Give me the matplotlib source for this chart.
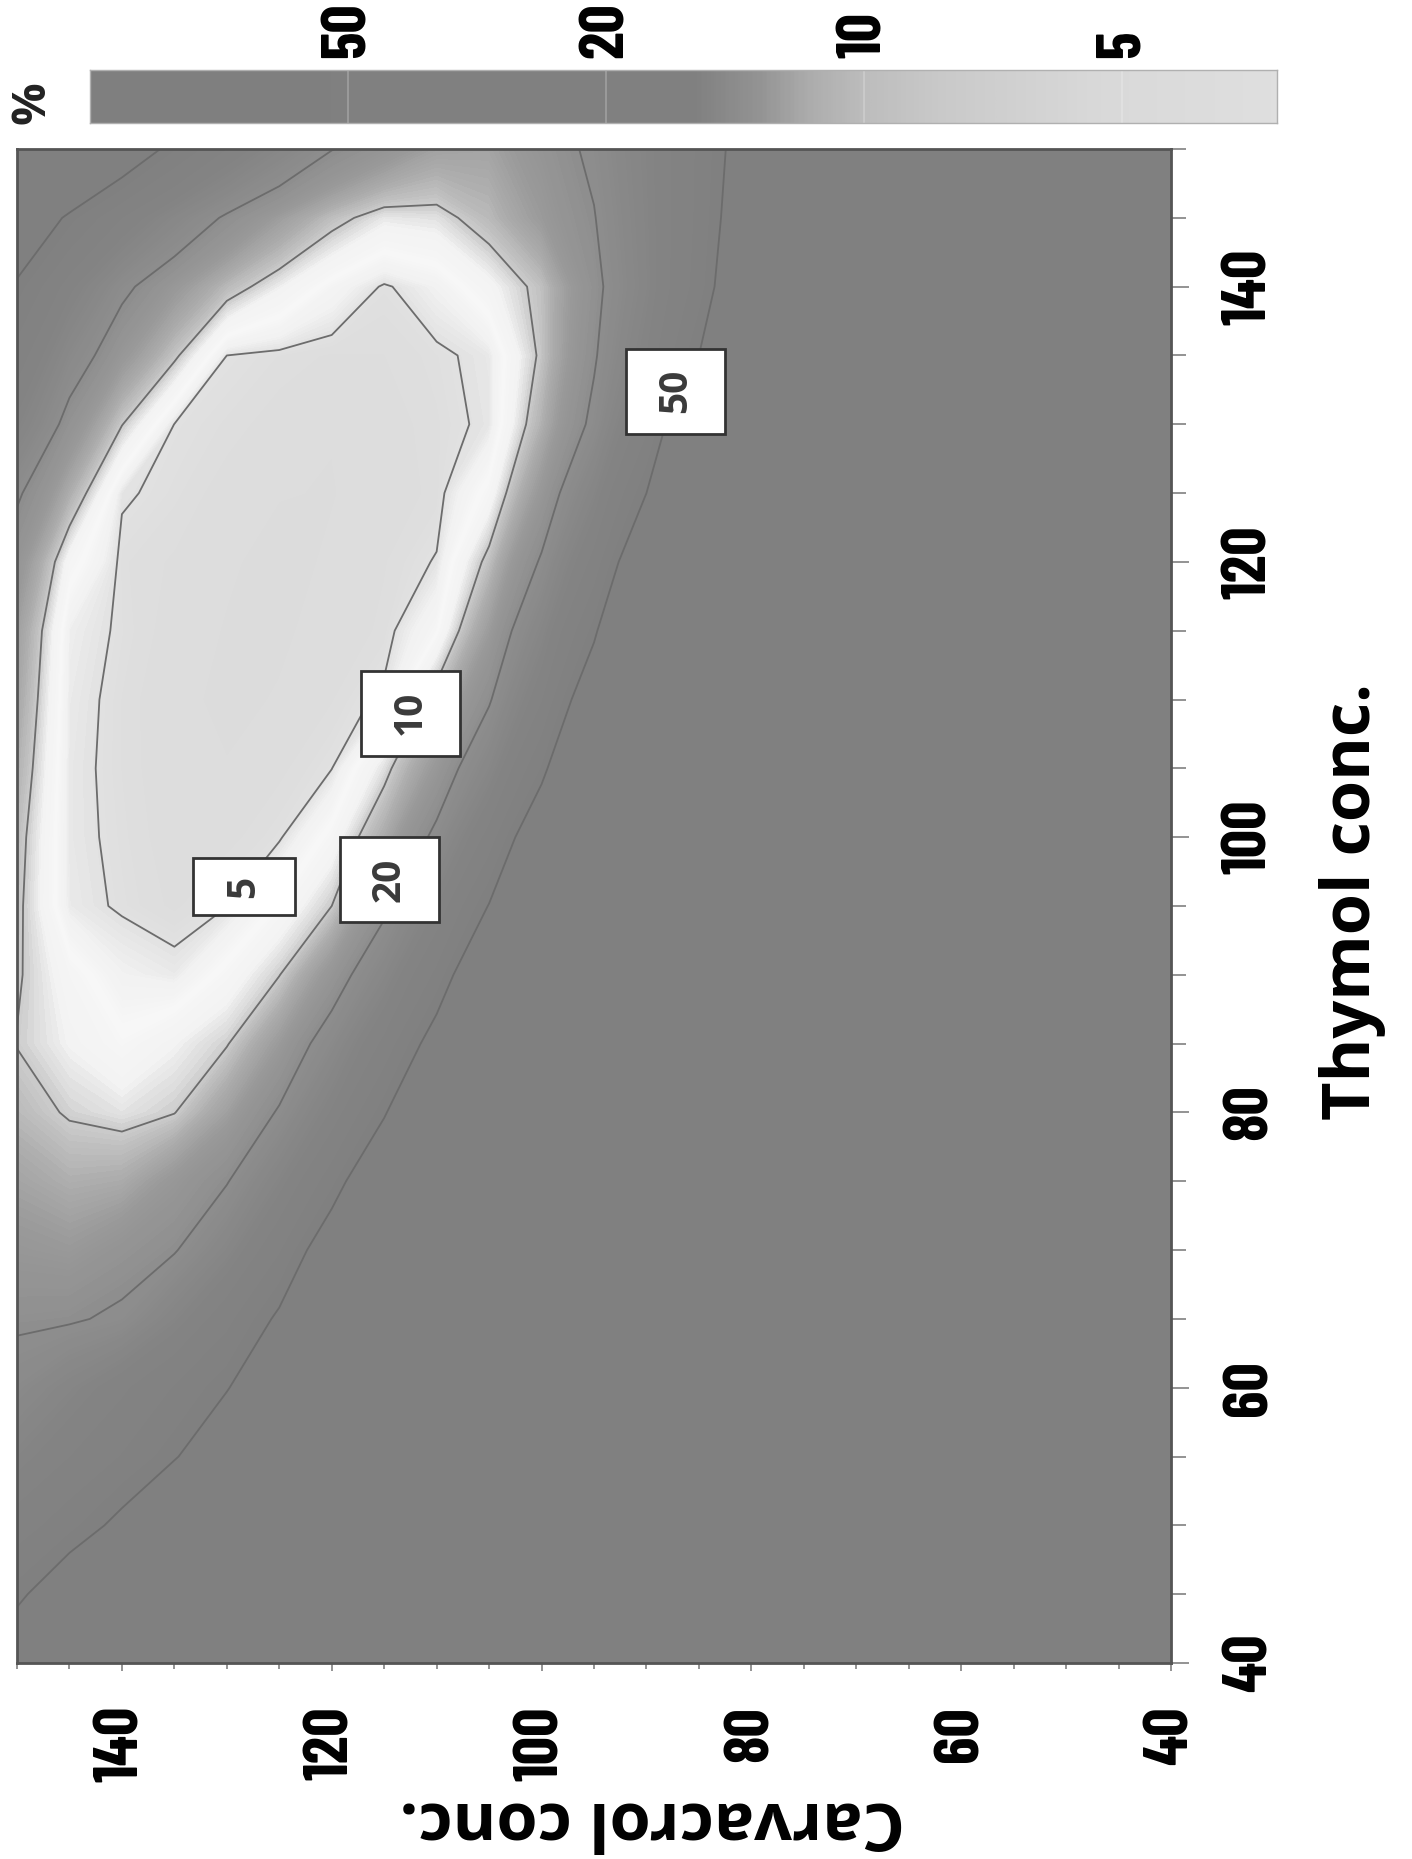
import numpy as np
import matplotlib
matplotlib.use("Agg")
import matplotlib.pyplot as plt
from matplotlib import colors, font_manager as fm
from matplotlib import patheffects as pe
from matplotlib.patches import Rectangle
from matplotlib.ticker import MultipleLocator

# ---------------- data ----------------
thymol_conc = [40, 45, 50, 55, 60, 65, 70, 75, 80, 85, 90, 95, 100,
               105, 110, 115, 120, 125, 130, 135, 140, 145, 150]
carvacrol_conc = [40, 45, 50, 55, 60, 65, 70, 75, 80, 85, 90, 95, 100,
                  105, 110, 115, 120, 125, 130, 135, 140, 145, 150]
# rows: thymol (ascending), columns: carvacrol (ascending); values in %
inhibition_pct = [
    [200,200,200,200,200,200,200,200,200,200,200,200,200,200,200,200,200,200,200,137,104,76,60],
    [200,200,200,200,200,200,200,200,200,200,200,200,200,200,200,200,200,200,157,113,82,59,47.7],
    [200,200,200,200,200,200,200,200,200,200,200,200,200,200,200,200,200,142,103,74,53,44,37.6],
    [200,200,200,200,200,200,200,200,200,200,200,200,200,200,200,175,126,92,66,48.6,41,35,29.3],
    [200,200,200,200,200,200,200,200,200,200,200,200,200,200,180,130,94,68,49,41,34,28.1,23.4],
    [200,200,200,200,200,200,200,200,200,200,200,200,200,174,128,95,71,52,38.7,28.6,21.1,19.3,18.9],
    [200,200,200,200,200,200,200,200,200,200,200,200,200,190,128,87,59,39.9,27.1,19.5,17.2,15.2,15.9],
    [200,200,200,200,200,200,200,200,200,200,200,200,200,150,99,66,44,29.1,19.6,15.7,12.6,12.2,13.5],
    [200,200,200,200,200,200,200,200,200,200,200,200,182,117,76,48.6,31.6,20.6,14.0,9.9,9.0,9.7,11.3],
    [200,200,200,200,200,200,200,200,200,200,200,200,137,88,56,36.3,23.5,14.9,9.8,8.3,7.1,8.3,9.9],
    [200,200,200,200,200,200,200,200,200,200,200,170,107,67,42,26.3,16.2,9.9,7.3,5.4,5.8,7.5,10.3],
    [200,200,200,200,200,200,200,200,200,200,200,137,83,50.5,30.9,18.4,10,7.0,4.97,4.42,4.86,5.4,10.6],
    [200,200,200,200,200,200,200,200,200,200,187,109,63,37,21.5,12.6,7.3,4.86,4.35,4.26,4.77,5.3,11.0],
    [200,200,200,200,200,200,200,200,200,200,141,80.5,46.1,26.3,15.5,9.1,4.97,4.39,3.9,4.17,4.7,5.3,12.0],
    [200,200,200,200,200,200,200,200,200,196,110,61.6,34.5,19.3,11.2,5.2,4.47,3.92,3.63,4.12,4.7,5.4,13.0],
    [200,200,200,200,200,200,200,200,200,150,85,47.6,27.1,14.6,6.6,4.6,4.17,3.71,3.79,4.3,4.83,5.6,14.0],
    [200,200,200,200,200,200,200,200,200,115,65,36.7,20.7,10.8,5.07,4.47,3.98,3.54,3.98,4.45,4.75,7.5,16.5],
    [200,200,200,200,200,200,200,200,157,89,50,28.3,15.6,7.3,4.6,4.27,3.81,3.9,4.3,4.77,5.11,12.3,20.9],
    [200,200,200,200,200,200,200,200,125,69.6,38.7,21.5,12.0,5.2,4.67,4.3,3.9,4.3,4.67,4.97,10.1,17.5,30],
    [200,200,200,200,200,200,200,129,80.5,50,31.1,19.3,10.5,5.3,4.8,4.5,4.45,4.7,5.0,10.5,15.7,24,38],
    [200,200,200,200,200,200,154,101,66,43.2,28.3,18.2,10.8,7.9,5.8,4.85,6.3,8.5,11.3,15.5,21.5,32.3,48],
    [200,200,200,200,200,190,131,90,61,42,28.9,19.7,14.9,11.3,9.1,8.8,10.9,14.4,19.0,25.8,35,47.6,65],
    [200,200,200,200,200,159,113,81,58,41.6,29.5,21.3,16.7,13.5,13.8,16.6,20.2,26.6,35,46.1,60.6,79.8,105],
]
contour_levels = [5, 10, 20, 50]
colorbar_ticks = [50, 20, 10, 5]
thymol_ticks = [40, 60, 80, 100, 120, 140]
carvacrol_ticks = [40, 60, 80, 100, 120, 140]
x_label = "Carvacrol conc."
y_label = "Thymol conc."
unit_label = "%"

# ---------------- layout / style ----------------
W, H = 1412, 1859
fig = plt.figure(figsize=(W / 100, H / 100), dpi=100)
fig.patch.set_facecolor("white")

def fx(px):
    return px / W

def fy(py):
    return 1 - py / H

_wmap = {"bold": 700, "semibold": 600, "demibold": 600, "demi": 600, "heavy": 800,
         "extra bold": 800, "black": 900, "ultrabold": 800}

def has_bold(name):
    for f in fm.fontManager.ttflist:
        if f.name == name:
            w = f.weight
            if isinstance(w, str):
                w = _wmap.get(w.lower(), 400)
            if w >= 600:
                return True
    return False

tick_family, tick_fx = None, []
for cand in ("Barlow Condensed", "Asap Condensed", "Archivo Narrow"):
    if has_bold(cand):
        tick_family = cand
        break
if tick_family is None:
    tick_family = "Archivo Narrow"
    tick_fx = [pe.withStroke(linewidth=1.6, foreground="black")]
tick_fp = fm.FontProperties(family=[tick_family, "DejaVu Sans"], weight="bold", size=45)
title_family = ["Open Sans", "DejaVu Sans"]

# value -> level index (5,10,20,50 equally spaced)
def fwd(z):
    z = np.maximum(np.asarray(z, dtype=float), 1e-9)
    return np.where(z < 20, 1 + np.log2(z / 5), 3 + np.log(z / 20) / np.log(2.5))

def inv(u):
    u = np.asarray(u, dtype=float)
    return np.where(u < 3, 5 * 2 ** (u - 1), 20 * 2.5 ** (u - 3))


def make_cmap(name, stops, lo, hi):
    pts = []
    for u, g in stops:
        p = min(max((u - lo) / (hi - lo), 0.0), 1.0)
        pts.append([p, (g, g, g)])
    pts[0][0] = 0.0
    pts[-1][0] = 1.0
    return colors.LinearSegmentedColormap.from_list(name, [tuple(p) for p in pts])


vmin, vmax = 3.3, 200.0
umin, umax = float(fwd(vmin)), float(fwd(vmax))
plot_stops = [(umin, 0.86), (0.9, 0.87), (1.0, 0.885), (1.2, 0.945), (1.45, 0.968),
              (1.75, 0.95), (2.0, 0.80), (2.3, 0.68), (2.6, 0.60), (3.0, 0.555),
              (3.5, 0.515), (4.0, 0.502), (umax, 0.502)]
cmap_plot = make_cmap("plot", plot_stops, umin, umax)
norm = colors.FuncNorm((fwd, inv), vmin=vmin, vmax=vmax)

ax = fig.add_axes([fx(17), fy(1663), fx(1171) - fx(17), fy(149) - fy(1663)])
ax.set_facecolor((0.5, 0.5, 0.5))
C, T = np.meshgrid(carvacrol_conc, thymol_conc)
Z = np.array(inhibition_pct, dtype=float)
fill_levels = inv(np.linspace(umin, umax, 160))
fill_levels[0] = vmin * 0.99
fill_levels[-1] = vmax * 1.01
ax.contourf(C, T, Z, levels=fill_levels, cmap=cmap_plot, norm=norm, antialiased=False)
ax.contour(C, T, Z, levels=contour_levels, colors="#6c6c6c", linewidths=1.3)

ax.set_xlim(150, 40)
ax.set_ylim(40, 150)

ax.yaxis.tick_right()
ax.set_yticks(thymol_ticks)
ax.set_yticklabels([str(v) for v in thymol_ticks], fontproperties=tick_fp,
                   rotation=90, va="center", ha="left")
ax.set_xticks(carvacrol_ticks)
ax.set_xticklabels([str(v) for v in carvacrol_ticks], fontproperties=tick_fp,
                   rotation=90, va="top", ha="center")
ax.xaxis.set_minor_locator(MultipleLocator(5))
ax.yaxis.set_minor_locator(MultipleLocator(5))
ax.tick_params(axis="y", which="major", length=13, width=1.2, color="#808080", pad=24)
ax.tick_params(axis="y", which="minor", length=11, width=1.2, color="#808080")
ax.tick_params(axis="x", which="major", length=6, width=1.2, color="#808080", pad=25)
ax.tick_params(axis="x", which="minor", length=4, width=1.2, color="#808080")
for lbl in ax.get_xticklabels() + ax.get_yticklabels():
    lbl.set_path_effects(tick_fx)
for s in ax.spines.values():
    s.set_color("#555555")
    s.set_linewidth(2)

# contour labels (white boxes); sizes in pixels -> data units
px_c = 1154 / 110.0
px_t = 1514 / 110.0
label_layout = {50: (87.2, 132.4), 10: (112.5, 109.0), 20: (114.5, 96.9), 5: (128.4, 96.4)}
for lev in contour_levels:
    cx, ty = label_layout[lev]
    bw, bh = (99, 85) if lev >= 10 else (102, 57)
    ax.add_patch(Rectangle((cx - bw / px_c / 2, ty - bh / px_t / 2), bw / px_c, bh / px_t,
                           fc="white", ec="#333333", lw=2, zorder=5))
    ax.text(cx, ty, str(lev), rotation=90, ha="center", va="center",
            fontsize=28, family=title_family, weight="bold", color="#3a3a3a", zorder=6)

# colorbar strip
cb_stops = [(0.4, 0.875), (1.1, 0.85), (1.7, 0.79), (2.0, 0.74), (2.2, 0.68),
            (2.4, 0.58), (2.65, 0.505), (5.0, 0.50)]
cmap_cb = make_cmap("cb", cb_stops, 0.4, 5.0)
cax = fig.add_axes([fx(90), fy(123), fx(1277) - fx(90), fy(70) - fy(123)])
cax.imshow(np.linspace(0.4, 5.0, 600)[None, :], extent=(0.4, 5.0, 0, 1), aspect="auto",
           cmap=cmap_cb, vmin=0.4, vmax=5.0, interpolation="bilinear")
cax.set_xlim(5.0, 0.4)
cax.set_ylim(0, 1)
tick_u = [float(fwd(v)) for v in colorbar_ticks]
for u in tick_u:
    cax.axvline(u, color="white", alpha=0.25, lw=1.2)
cax.xaxis.tick_top()
cax.set_xticks(tick_u)
cax.set_xticklabels([str(v) for v in colorbar_ticks], fontproperties=tick_fp,
                    rotation=90, ha="center", va="bottom")
for lbl in cax.get_xticklabels():
    lbl.set_path_effects(tick_fx)
cax.tick_params(axis="x", length=0, pad=9)
cax.set_yticks([])
for s in cax.spines.values():
    s.set_color("#b0b0b0")
    s.set_linewidth(1)

# axis titles (figure is rotated)
fig.text(fx(1352), fy(901), y_label, rotation=90, ha="center", va="center",
         fontsize=48, family=title_family, weight="bold")
fig.text(fx(652), fy(1820), x_label, rotation=180, ha="center", va="center",
         fontsize=48, family=title_family, weight="bold")
fig.text(fx(32), fy(103), unit_label, rotation=90, ha="center", va="center",
         fontsize=34, family=title_family, weight="bold", color="#222222")

fig.savefig("out.png", dpi=100, facecolor="white")
